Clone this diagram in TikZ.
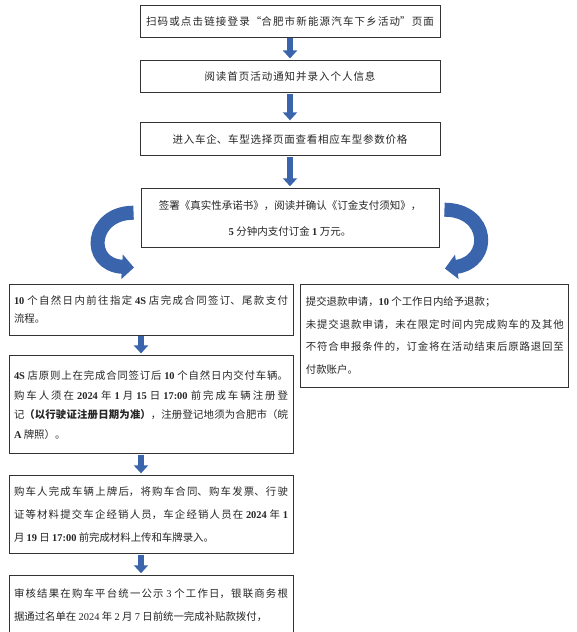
\documentclass[tikz,border=0pt]{standalone}
\usepackage{fontspec}
\setmainfont{Noto Sans CJK SC}
\newfontfamily\latin{Liberation Serif}
\usetikzlibrary{positioning, arrows.meta}
\XeTeXlinebreaklocale "zh"
\XeTeXlinebreakskip=0pt plus 3pt
\definecolor{flowblue}{RGB}{58,100,172}
\newcommand\shu[1]{{\latin\bfseries #1}}
\newcommand\shuz[1]{{\latin #1}}

\begin{document}
\begin{tikzpicture}[
    font=\fontsize{10.5}{18}\selectfont,
    node distance=20pt,
    stepbox/.style={
        rectangle, draw=black!80, line width=0.9pt, fill=white,
        text=black!85, minimum width=300pt, minimum height=32pt,
        inner sep=3pt, align=center
    },
    spread/.style={text width=#1, align=justify},
    note/.style={
        rectangle, draw=black!80, line width=0.9pt, fill=white,
        text=black!85, text width=274pt, align=justify,
        inner xsep=5pt, inner ysep=3pt
    },
    flow/.style={
        draw=flowblue, line width=6pt,
        -{Triangle[width=14pt, length=8pt]},
        shorten <=1pt, shorten >=2pt
    },
    swoosh/.style={
        draw=flowblue, line width=14pt,
        -{Triangle[width=24pt, length=12pt]}
    }
]
\useasboundingbox (0,0) rectangle (576pt,-632pt);

% ============ MAIN FLOW (top) ============
\node[stepbox, spread=288pt] (login) at (290pt,-21pt)
    {\parfillskip=0pt 扫码或点击链接登录“合肥市新能源汽车下乡活动”页面\par};
\node[stepbox, below=23pt of login, spread=171pt] (notice)
    {\parfillskip=0pt 阅读首页活动通知并录入个人信息\par};
\node[stepbox, below=29pt of notice, minimum height=33pt, spread=235pt] (models)
    {\parfillskip=0pt 进入车企、车型选择页面查看相应车型参数价格\par};
\node[stepbox, below=32pt of models, minimum width=298pt, minimum height=59pt,
      font=\fontsize{10.5}{26}\selectfont] (deposit)
    {签署《真实性承诺书》，阅读并确认《订金支付须知》，\\
     \shu{5} 分钟内支付订金 \shu{1} 万元。};

\draw[flow] (login) -- (notice);
\draw[flow] (notice) -- (models);
\draw[flow] (models) -- (deposit);

% ============ LEFT COLUMN ============
\node[note, minimum height=51pt, font=\fontsize{10.4}{18}\selectfont]
    (contract) at (151pt,-309.5pt)
    {\shu{10} 个自然日内前往指定 \shu{4S} 店完成合同签订、尾款支付\linebreak
     流程。};
\node[note, below=20pt of contract, minimum height=98pt,
      font=\fontsize{10.4}{19.5}\selectfont] (register)
    {\shu{4S} 店原则上在完成合同签订后 \shu{10} 个自然日内交付车辆。\linebreak
     购车人须在 \shu{2024} 年 \shu{1} 月 \shu{15} 日 \shu{17:00} 前完成车辆注册登\linebreak
     记\textbf{（以行驶证注册日期为准）}，注册登记地须为合肥市（皖\linebreak
     \shu{A} 牌照）。};
\node[note, below=21pt of register, minimum height=78pt,
      font=\fontsize{10.4}{23}\selectfont] (upload)
    {购车人完成车辆上牌后，将购车合同、购车发票、行驶\linebreak
     证等材料提交车企经销人员，车企经销人员在 \shu{2024} 年 \shu{1}\linebreak
     月 \shu{19} 日 \shu{17:00} 前完成材料上传和车牌录入。};
\node[note, below=21pt of upload, minimum height=80pt,
      font=\fontsize{10.4}{23}\selectfont] (payout)
    {审核结果在购车平台统一公示 \shuz{3} 个工作日，银联商务根\linebreak
     据通过名单在 \shuz{2024} 年 \shuz{2} 月 \shuz{7} 日前统一完成补贴款拨付，\\
     \mbox{}};

\draw[flow] ([xshift=-10pt]contract.south) -- ([xshift=-10pt]register.north);
\draw[flow] ([xshift=-10pt]register.south) -- ([xshift=-10pt]upload.north);
\draw[flow] ([xshift=-10pt]upload.south) -- ([xshift=-10pt]payout.north);

% ============ RIGHT BOX ============
\node[note, right=7pt of contract.north east, anchor=north west,
      text width=258pt, minimum height=103pt,
      font=\fontsize{10.4}{22.7}\selectfont] (refund)
    {提交退款申请，\shu{10} 个工作日内给予退款；\\
     未提交退款申请，未在限定时间内完成购车的及其他\linebreak
     不符合申报条件的，订金将在活动结束后原路退回至\linebreak
     付款账户。};

% ============ CURVED ARROWS ============
\draw[swoosh] ([xshift=-7pt, yshift=5.5pt]deposit.west)
    .. controls +(-43pt,0pt) and +(-49pt,3pt) ..
    ([xshift=-17pt, yshift=16pt]contract.north);
\draw[swoosh] ([xshift=5pt, yshift=8.5pt]deposit.east)
    .. controls +(45pt,0pt) and +(48pt,7pt) ..
    ([xshift=10pt, yshift=15pt]refund.north);

\end{tikzpicture}
\end{document}
